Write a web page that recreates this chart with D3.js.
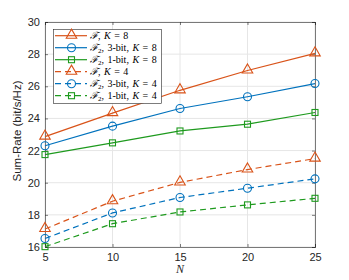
<!DOCTYPE html>
<html lang="en">
<head>
<meta charset="UTF-8">
<title></title>
<script src="https://d3js.org/d3.v7.min.js"></script>
<style>
  body { margin: 0; background: #fff; }
  text { font-family: "Liberation Sans", Arial, sans-serif; }
</style>
</head>
<body>
<svg id="chart" width="349" height="280"></svg>
<script>
// values
let Nvals = [5, 10, 15, 20, 25];
let yTicks = [16, 18, 20, 22, 24, 26, 28, 30];
let fK8 = [22.87, 24.33, 25.75, 26.98, 28.05];
let f3K8 = [22.3, 23.52, 24.62, 25.35, 26.17];
let f1K8 = [21.75, 22.48, 23.22, 23.64, 24.37];
let fK4 = [17.12, 18.85, 20.02, 20.82, 21.5];
let f3K4 = [16.53, 18.12, 19.08, 19.66, 20.24];
let f1K4 = [16.02, 17.45, 18.18, 18.62, 19.03];

let series = [
  {vals: fK8,  color: "#D95319", marker: "tri", dash: null, name: ["ℱ", "", ", ", "K", " = 8"]},
  {vals: f3K8, color: "#0072BD", marker: "circ", dash: null, name: ["ℱ", "2", ", 3-bit, ", "K", " = 8"]},
  {vals: f1K8, color: "#1E9A1E", marker: "sq", dash: null, name: ["ℱ", "2", ", 1-bit, ", "K", " = 8"]},
  {vals: fK4,  color: "#D95319", marker: "tri", dash: "6,4", name: ["ℱ", "", ", ", "K", " = 4"]},
  {vals: f3K4, color: "#0072BD", marker: "circ", dash: "6,4", name: ["ℱ", "2", ", 3-bit, ", "K", " = 4"]},
  {vals: f1K4, color: "#1E9A1E", marker: "sq", dash: "6,4", name: ["ℱ", "2", ", 1-bit, ", "K", " = 4"]}
];

let svg = d3.select("#chart");
let m = {left: 45, right: 34, top: 22, bottom: 33};
let W = 349, H = 280;
let x = d3.scaleLinear().domain([5, 25]).range([m.left, W - m.right]);
let y = d3.scaleLinear().domain([16, 30]).range([H - m.bottom, m.top]);

// grid
svg.append("g").selectAll("line.gx").data(Nvals).enter().append("line")
  .attr("x1", d => x(d)).attr("x2", d => x(d))
  .attr("y1", y(16)).attr("y2", y(30))
  .attr("stroke", "#e6e6e6").attr("stroke-width", 1);
svg.append("g").selectAll("line.gy").data(yTicks).enter().append("line")
  .attr("x1", x(5)).attr("x2", x(25))
  .attr("y1", d => y(d)).attr("y2", d => y(d))
  .attr("stroke", "#e6e6e6").attr("stroke-width", 1);

// axes
let xAxis = d3.axisBottom(x).tickValues(Nvals).tickSize(-3).tickPadding(6);
let yAxis = d3.axisLeft(y).tickValues(yTicks).tickSize(-3).tickPadding(5);
let gx = svg.append("g").attr("transform", "translate(0," + y(16) + ")").call(xAxis);
let gy = svg.append("g").attr("transform", "translate(" + x(5) + ",0)").call(yAxis);
let gx2 = svg.append("g").attr("transform", "translate(0," + y(30) + ")").call(d3.axisTop(x).tickValues(Nvals).tickSize(-3).tickFormat(""));
let gy2 = svg.append("g").attr("transform", "translate(" + x(25) + ",0)").call(d3.axisRight(y).tickValues(yTicks).tickSize(-3).tickFormat(""));
[gx, gy, gx2, gy2].forEach(g => {
  g.selectAll("path, line").attr("stroke", "#262626").attr("stroke-width", 0.6);
  g.selectAll("text").attr("font-size", 11).attr("fill", "#262626");
});

function drawMarker(g, type, cx, cy, color) {
  if (type === "tri") {
    g.append("path").attr("d", d3.symbol().type(d3.symbolTriangle).size(48)())
      .attr("transform", "translate(" + cx + "," + (cy - 0.5) + ")")
      .attr("fill", "none").attr("stroke", color).attr("stroke-width", 1.1);
  } else if (type === "circ") {
    g.append("circle").attr("cx", cx).attr("cy", cy).attr("r", 4)
      .attr("fill", "none").attr("stroke", color).attr("stroke-width", 1.1);
  } else {
    g.append("rect").attr("x", cx - 3).attr("y", cy - 3).attr("width", 6).attr("height", 6)
      .attr("fill", "none").attr("stroke", color).attr("stroke-width", 1.1);
  }
}

let line = d3.line().x((d, i) => x(Nvals[i])).y(d => y(d));
series.forEach(s => {
  let g = svg.append("g");
  g.append("path").datum(s.vals).attr("d", line)
    .attr("fill", "none").attr("stroke", s.color).attr("stroke-width", 1.2)
    .attr("stroke-dasharray", s.dash);
  s.vals.forEach((v, i) => drawMarker(g, s.marker, x(Nvals[i]), y(v), s.color));
});

// legend
let lg = svg.append("g");
lg.append("rect").attr("x", 53.5).attr("y", 29.5).attr("width", 108).attr("height", 74)
  .attr("fill", "#fff").attr("stroke", "#262626").attr("stroke-width", 0.6);
series.forEach((s, i) => {
  let ly = 35.7 + i * 12;
  lg.append("line").attr("x1", 55).attr("x2", 87).attr("y1", ly).attr("y2", ly)
    .attr("stroke", s.color).attr("stroke-width", 1.2).attr("stroke-dasharray", s.dash);
  drawMarker(lg, s.marker, 71.5, ly, s.color);
  let t = lg.append("text").attr("x", 90).attr("y", ly + 3.5)
    .attr("font-size", 10).attr("fill", "#000").attr("word-spacing", 1)
    .style("font-family", "'Liberation Serif', 'DejaVu Serif', serif");
  t.append("tspan").text(s.name[0]).style("font-style", "italic");
  if (s.name[1]) t.append("tspan").attr("font-size", 7).attr("dy", 1.5).text(s.name[1]);
  t.append("tspan").attr("dy", s.name[1] ? -1.5 : 0).text(s.name[2]);
  t.append("tspan").style("font-style", "italic").text(s.name[3]);
  t.append("tspan").text(s.name[4]);
});

// axis labels
svg.append("text").attr("transform", "translate(21,131) rotate(-90)")
  .attr("text-anchor", "middle").attr("font-size", 11.5).attr("fill", "#262626")
  .text("Sum-Rate (bit/s/Hz)");
svg.append("text").attr("x", (x(5) + x(25)) / 2).attr("y", 273)
  .attr("text-anchor", "middle").attr("font-size", 12).attr("fill", "#262626")
  .style("font-family", "'Liberation Serif', serif").style("font-style", "italic")
  .text("N");
</script>
</body>
</html>
